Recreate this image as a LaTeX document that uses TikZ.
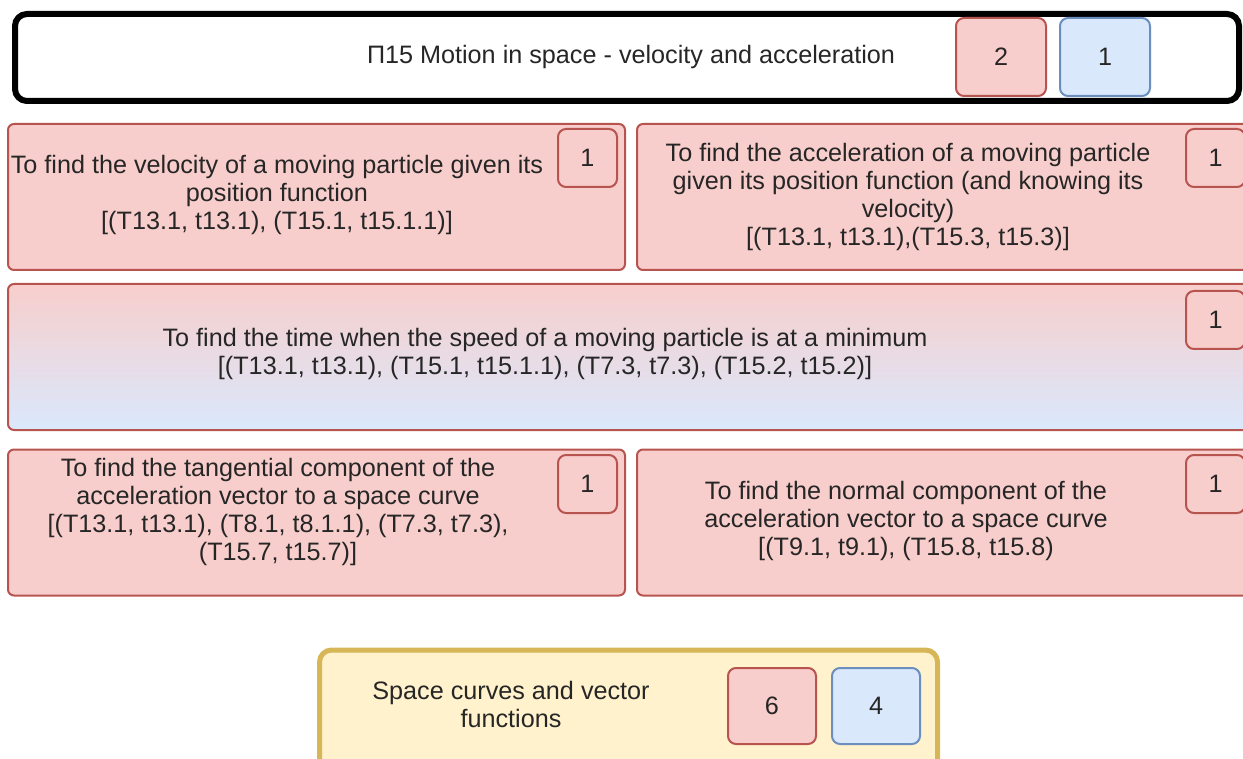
\documentclass[tikz,border=0pt]{standalone}
\usepackage{fontspec}
\setmainfont{Liberation Sans}
\usetikzlibrary{positioning}
\definecolor{skred}{HTML}{B85450}
\definecolor{sklightred}{HTML}{F8CECC}
\definecolor{skblue}{HTML}{6C8EBF}
\definecolor{sklightblue}{HTML}{DAE8FC}
\definecolor{skgold}{HTML}{D6B656}
\definecolor{sklightgold}{HTML}{FFF2CC}
\definecolor{sktext}{HTML}{262626}

\begin{document}
\begin{tikzpicture}[x=1pt,y=-1pt,
 font=\fontsize{25.2}{28}\selectfont,text=sktext,
 topicbox/.style={draw=black,line width=6pt,rounded corners=12pt,fill=white,minimum width=1224pt,minimum height=87pt,inner sep=0pt},
 taskbox/.style={draw=skred,line width=2pt,rounded corners=6pt,fill=sklightred,minimum height=146pt,inner sep=0pt},
 mixbox/.style={draw=skred,line width=2pt,rounded corners=6pt,top color=sklightred,bottom color=sklightblue,minimum height=146pt,inner sep=0pt},
 unitbox/.style={draw=skgold,line width=5pt,rounded corners=12pt,fill=sklightgold,minimum width=618pt,minimum height=130pt,inner sep=0pt},
 redcount/.style={draw=skred,line width=2pt,rounded corners=8pt,fill=sklightred,inner sep=0pt},
 bluecount/.style={draw=skblue,line width=2pt,rounded corners=8pt,fill=sklightblue,inner sep=0pt},
 smallcount/.style={redcount,minimum width=59pt,minimum height=58pt},
 bigcount/.style={minimum width=90pt,minimum height=78pt},
 tasktext/.style={align=center,inner sep=0pt}
]
\useasboundingbox (0,0) rectangle (1243,759);
\clip (0,0) rectangle (1243,759);
% topic header
\node[topicbox] (topic) at (627,57.5) {};
\node[tasktext] (topictext) at (631,57) {П15 Motion in space - velocity and acceleration};
\node[redcount,bigcount] (topicred) at (1001,57) {2};
\node[bluecount,bigcount] (topicblue) at (1105,57) {1};
% first row
\node[taskbox,minimum width=617pt] (velocity) at (316.5,197) {};
\node[tasktext] (velocitytext) at (277,195)
  {To find the velocity of a moving particle given its\\position function\\{}[(T13.1, t13.1), (T15.1, t15.1.1)]};
\node[smallcount] (velocitycount) at (587.5,158) {1};
\node[taskbox,minimum width=616pt] (accel) at (945,197) {};
\node[tasktext] (acceltext) at (908,197)
  {To find the acceleration of a moving particle\\given its position function (and knowing its\\velocity)\\{}[(T13.1, t13.1),(T15.3, t15.3)]};
\node[smallcount] (accelcount) at (1215.5,158) {1};
% second row
\node[mixbox,minimum width=1245pt] (minspeed) at (630.5,357) {};
\node[tasktext] (minspeedtext) at (545,354)
  {To find the time when the speed of a moving particle is at a minimum\\{}[(T13.1, t13.1), (T15.1, t15.1.1), (T7.3, t7.3), (T15.2, t15.2)]};
\node[smallcount] (minspeedcount) at (1215.5,320) {1};
% third row
\node[taskbox,minimum width=617pt] (tangent) at (316.5,522.5) {};
\node[tasktext] (tangenttext) at (278,512)
  {To find the tangential component of the\\acceleration vector to a space curve\\{}[(T13.1, t13.1), (T8.1, t8.1.1), (T7.3, t7.3),\\(T15.7, t15.7)]};
\node[smallcount] (tangentcount) at (587.5,484) {1};
\node[taskbox,minimum width=616pt] (normal) at (945,522.5) {};
\node[tasktext] (normaltext) at (906,521)
  {To find the normal component of the\\acceleration vector to a space curve\\{}[(T9.1, t9.1), (T15.8, t15.8)};
\node[smallcount] (normalcount) at (1215.5,484) {1};
% unit box
\node[unitbox] (unit) at (628.5,715) {};
\node[tasktext] (unittext) at (511,704) {Space curves and vector\\functions};
\node[redcount,bigcount,minimum width=88pt,minimum height=76pt] (unitred) at (772,706) {6};
\node[bluecount,bigcount,minimum width=88pt,minimum height=76pt] (unitblue) at (876,706) {4};
\end{tikzpicture}
\end{document}
